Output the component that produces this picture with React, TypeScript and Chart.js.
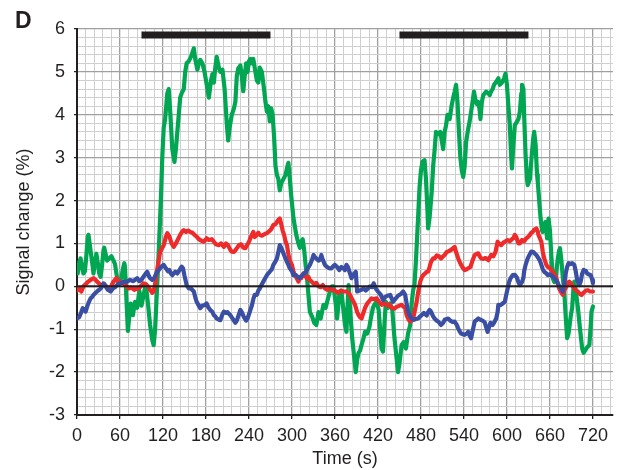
import React, { useEffect, useRef } from "react";
import { Chart, registerables } from "chart.js";

Chart.register(...registerables);

// Time (s) of the stimulus blocks (black bars)
const stimulusBlocks: [number, number][] = [
  [90, 270],
  [450, 630],
];
const stimulusLevel = 5.86;

const xTickLabels = [0, 60, 120, 180, 240, 300, 360, 420, 480, 540, 600, 660, 720];
const yTickLabels = [-3, -2, -1, 0, 1, 2, 3, 4, 5, 6];

// [time (s), signal change (%)]
const greenSignal: [number, number][] = [
  [1,0.3],[3,0.55],[5,0.65],[7,0.45],[9,0.3],[11,0.35],[13,0.7],[15,1.15],[16,1.2],[18,0.95],[20,0.7],[22,0.45],[23,0.3],[25,0.55],[27,0.76],[29,0.55],[31,0.3],[33,0.22],[35,0.5],[37,0.85],[38,0.9],[40,0.75],[42,0.6],[45,0.65],[48,0.7],[51,0.6],[53,0.52],[55,0.3],[57,0.1],[58,0.05],[60,0.15],[62,0.2],[64,0.4],[66,0.54],[67,0.45],[69,-0.3],[71,-1.04],[73,-0.7],[75,-0.4],[78,-0.67],[81,-0.36],[84,-0.5],[87,-0.1],[90,-0.45],[93,-0.2],[96,0.05],[99,-0.4],[102,-0.9],[105,-1.25],[107,-1.37],[109,-1.0],[111,-0.3],[113,0.4],[115,1.2],[117,2.0],[119,3.0],[121,3.7],[123,3.9],[126,4.5],[128,4.6],[130,4.1],[133,3.2],[136,2.9],[138,3.2],[141,3.8],[144,4.4],[146,4.5],[149,4.6],[151,5.0],[153,5.2],[156,5.25],[159,5.35],[161,5.45],[163,5.55],[165,5.3],[168,5.05],[170,5.2],[172,5.28],[175,5.2],[178,5.0],[181,4.7],[184,4.4],[187,4.8],[189,4.95],[191,4.75],[193,5.1],[195,5.35],[198,5.1],[200,5.0],[203,5.05],[206,4.6],[209,3.8],[211,3.4],[213,3.7],[216,4.0],[219,4.15],[221,4.3],[223,4.9],[225,5.08],[228,5.15],[230,4.9],[232,4.55],[234,4.9],[236,5.2],[238,5.0],[240,5.25],[242,5.3],[244,5.2],[246,5.3],[249,5.0],[251,4.8],[253,4.75],[255,5.1],[258,5.0],[261,4.6],[263,4.3],[265,4.07],[267,4.2],[269,3.85],[271,4.15],[273,4.0],[275,3.5],[277,2.8],[279,2.6],[281,2.5],[283,2.24],[285,2.4],[288,2.5],[291,2.6],[293,2.75],[295,2.88],[297,2.5],[299,2.1],[302,1.6],[304,1.4],[306,1.2],[309,1.0],[311,0.9],[313,1.05],[315,1.1],[317,0.85],[319,0.5],[321,0.2],[323,-0.2],[325,-0.6],[328,-0.7],[331,-0.85],[334,-0.9],[337,-0.6],[340,-0.75],[344,-0.43],[347,-0.5],[350,-0.3],[353,-0.12],[356,0.0],[358,0.0],[361,-0.4],[363,-0.75],[366,-0.2],[369,-0.1],[372,-0.59],[374,-0.9],[376,-1.06],[378,-0.3],[379,0.03],[381,-0.5],[384,-1.2],[387,-1.68],[389,-2.0],[391,-1.7],[393,-1.55],[395,-1.5],[397,-1.37],[400,-1.2],[402,-1.06],[405,-1.1],[408,-0.95],[410,-0.75],[413,-0.5],[415,-0.43],[418,-0.35],[421,-0.55],[423,-1.0],[425,-1.45],[427,-1.52],[429,-0.9],[431,-0.36],[434,-0.5],[437,-0.4],[440,-0.55],[443,-1.2],[446,-1.68],[448,-2.0],[450,-1.8],[453,-1.37],[456,-1.3],[459,-1.45],[462,-1.1],[465,-0.9],[467,-0.4],[469,-0.1],[471,0.05],[473,0.6],[476,1.6],[478,2.3],[480,2.7],[482,2.9],[485,2.94],[487,2.5],[489,1.8],[490,1.35],[492,1.6],[495,2.2],[497,2.8],[499,3.17],[501,3.6],[504,3.55],[507,3.6],[509,3.4],[511,3.2],[513,3.6],[515,3.75],[517,4.0],[520,3.9],[523,4.23],[525,4.4],[527,4.54],[529,4.7],[531,4.3],[533,3.6],[535,3.0],[537,2.7],[539,2.55],[541,2.8],[543,3.37],[546,3.68],[548,3.85],[550,4.07],[552,4.3],[554,4.54],[556,4.35],[558,4.25],[560,4.3],[562,4.1],[563,3.9],[565,4.3],[567,4.46],[569,4.5],[571,4.54],[574,4.5],[576,4.46],[578,4.55],[580,4.6],[582,4.7],[585,4.77],[588,4.85],[590,4.7],[593,4.75],[596,4.85],[598,4.96],[600,4.7],[602,4.2],[604,3.76],[606,3.0],[607,2.75],[609,3.3],[611,3.76],[614,3.84],[616,3.9],[618,4.07],[620,4.5],[621,4.7],[623,4.6],[624,4.0],[626,3.06],[628,2.5],[629,2.36],[632,2.5],[635,3.14],[637,3.5],[638,3.6],[640,3.3],[642,2.6],[643,2.44],[645,2.0],[647,1.58],[649,1.3],[650,1.27],[652,1.45],[654,1.5],[656,1.12],[658,1.58],[660,1.3],[662,0.7],[664,0.19],[666,0.1],[668,0.2],[671,0.65],[673,0.85],[674,0.89],[676,0.6],[678,0.2],[680,-0.12],[682,-0.7],[684,-1.21],[686,-1.1],[689,-0.7],[691,-0.5],[693,0.0],[694,0.11],[696,-0.1],[699,-0.5],[702,-1.0],[705,-1.45],[707,-1.55],[709,-1.5],[712,-1.42],[715,-1.37],[717,-0.9],[718,-0.59],[720,-0.47],
];

const redSignal: [number, number][] = [
  [0,-0.1],[3,-0.05],[6,-0.12],[9,0.0],[12,0.05],[15,0.1],[19,0.15],[23,0.19],[26,0.15],[28,0.11],[32,0.05],[35,0.02],[38,0.05],[42,-0.02],[46,-0.08],[49,0.05],[51,0.11],[55,0.19],[58,0.12],[62,0.1],[66,0.06],[69,0.0],[72,-0.05],[76,-0.03],[80,-0.08],[84,-0.05],[86,-0.05],[90,0.02],[93,0.07],[96,0.05],[99,0.0],[102,-0.08],[105,-0.15],[107,-0.12],[109,0.05],[111,0.3],[113,0.5],[116,0.8],[119,0.9],[121,0.96],[124,1.15],[126,1.24],[129,1.16],[132,1.0],[135,0.92],[138,1.0],[141,1.1],[144,1.2],[147,1.28],[149,1.31],[152,1.27],[155,1.3],[158,1.27],[161,1.25],[164,1.2],[167,1.16],[170,1.1],[174,1.06],[177,1.04],[181,1.12],[184,1.08],[188,1.1],[191,1.04],[194,0.98],[198,0.96],[201,1.0],[205,0.92],[208,1.0],[211,0.95],[214,0.85],[216,0.81],[219,0.8],[222,0.86],[226,0.96],[229,0.98],[232,0.9],[235,0.89],[238,0.98],[240,1.04],[242,1.12],[244,1.2],[246,1.27],[248,1.15],[251,1.2],[253,1.25],[255,1.2],[258,1.18],[262,1.22],[265,1.24],[268,1.28],[271,1.33],[274,1.43],[277,1.45],[279,1.5],[281,1.55],[283,1.58],[285,1.45],[287,1.3],[289,1.2],[291,1.05],[293,0.96],[295,0.75],[297,0.6],[300,0.5],[302,0.35],[304,0.26],[307,0.18],[309,0.11],[311,0.22],[313,0.19],[316,0.3],[318,0.26],[321,0.18],[323,0.22],[325,0.15],[328,0.1],[331,0.05],[334,0.08],[337,0.0],[340,-0.02],[343,0.03],[346,-0.05],[349,-0.08],[353,-0.05],[356,-0.08],[360,-0.1],[364,-0.15],[368,-0.1],[372,-0.12],[376,-0.12],[380,-0.17],[384,-0.3],[388,-0.43],[391,-0.6],[393,-0.67],[395,-0.72],[397,-0.75],[400,-0.6],[402,-0.5],[405,-0.4],[407,-0.36],[411,-0.28],[414,-0.3],[418,-0.28],[421,-0.35],[425,-0.43],[429,-0.4],[433,-0.45],[436,-0.42],[439,-0.5],[443,-0.52],[446,-0.48],[450,-0.45],[453,-0.43],[456,-0.48],[458,-0.5],[460,-0.67],[463,-0.78],[465,-0.82],[467,-0.8],[469,-0.75],[471,-0.6],[474,-0.36],[476,-0.15],[479,0.11],[481,0.2],[483,0.26],[486,0.3],[488,0.34],[490,0.34],[492,0.45],[494,0.57],[497,0.65],[499,0.65],[502,0.72],[505,0.7],[508,0.65],[511,0.7],[513,0.73],[516,0.8],[519,0.82],[522,0.85],[524,0.88],[527,0.92],[529,0.8],[532,0.65],[534,0.57],[536,0.5],[539,0.42],[541,0.38],[544,0.4],[546,0.42],[549,0.45],[552,0.6],[555,0.73],[558,0.76],[560,0.77],[562,0.7],[564,0.65],[567,0.64],[570,0.66],[574,0.61],[576,0.67],[578,0.73],[581,0.7],[584,0.8],[587,1.04],[590,0.98],[592,0.96],[595,1.02],[597,1.04],[601,1.08],[604,1.05],[607,1.1],[609,1.12],[611,1.2],[613,1.15],[616,1.0],[618,1.0],[621,1.08],[624,1.05],[627,1.12],[630,1.16],[632,1.2],[634,1.25],[636,1.27],[638,1.32],[641,1.35],[643,1.28],[644,1.2],[646,1.12],[648,1.04],[650,0.81],[652,0.65],[655,0.5],[657,0.45],[660,0.42],[662,0.38],[664,0.34],[666,0.28],[669,0.19],[671,0.05],[673,-0.05],[675,-0.12],[678,-0.2],[680,-0.1],[683,0.0],[685,0.08],[687,0.11],[690,0.05],[692,0.0],[694,-0.05],[697,-0.1],[699,-0.12],[702,-0.18],[704,-0.2],[707,-0.15],[710,-0.1],[713,-0.09],[716,-0.12],[720,-0.12],
];

const blueSignal: [number, number][] = [
  [0,-0.75],[3,-0.72],[6,-0.6],[8,-0.51],[10,-0.55],[12,-0.59],[15,-0.43],[17,-0.35],[19,-0.28],[21,-0.25],[23,-0.2],[26,-0.15],[28,-0.12],[31,-0.08],[33,-0.05],[35,0.0],[37,0.07],[40,0.0],[43,-0.08],[47,-0.12],[50,-0.05],[53,-0.02],[56,0.03],[60,0.07],[63,0.08],[65,0.11],[69,0.1],[72,0.13],[74,0.15],[78,0.12],[81,0.15],[84,0.19],[87,0.12],[90,0.15],[93,0.23],[96,0.3],[98,0.34],[100,0.25],[102,0.19],[105,0.15],[108,0.2],[110,0.28],[112,0.34],[114,0.38],[116,0.42],[119,0.48],[121,0.5],[124,0.42],[127,0.35],[129,0.38],[131,0.3],[133,0.26],[135,0.3],[137,0.34],[140,0.3],[143,0.38],[146,0.46],[148,0.42],[150,0.25],[153,0.03],[156,-0.05],[159,-0.05],[163,-0.12],[165,-0.25],[167,-0.36],[170,-0.45],[172,-0.51],[175,-0.45],[178,-0.44],[181,-0.4],[183,-0.48],[186,-0.55],[189,-0.6],[191,-0.67],[193,-0.7],[195,-0.75],[198,-0.78],[200,-0.79],[203,-0.65],[205,-0.59],[208,-0.62],[210,-0.6],[212,-0.64],[214,-0.67],[217,-0.75],[219,-0.8],[221,-0.85],[223,-0.8],[226,-0.65],[228,-0.55],[230,-0.6],[233,-0.72],[236,-0.8],[238,-0.75],[240,-0.65],[242,-0.55],[244,-0.45],[246,-0.3],[248,-0.2],[251,-0.2],[253,-0.1],[255,-0.05],[258,0.05],[260,0.11],[263,0.2],[265,0.26],[267,0.3],[269,0.34],[272,0.4],[274,0.5],[277,0.58],[279,0.65],[281,0.8],[283,0.96],[285,0.9],[287,0.82],[289,0.73],[291,0.65],[293,0.57],[295,0.5],[297,0.42],[300,0.35],[302,0.26],[305,0.27],[308,0.22],[311,0.19],[314,0.25],[317,0.3],[320,0.34],[322,0.42],[325,0.5],[328,0.62],[330,0.73],[332,0.68],[334,0.65],[337,0.6],[339,0.62],[341,0.73],[343,0.62],[346,0.5],[349,0.45],[352,0.42],[355,0.42],[358,0.48],[360,0.5],[363,0.45],[366,0.38],[369,0.45],[372,0.42],[374,0.38],[376,0.5],[378,0.45],[381,0.3],[383,0.19],[386,0.28],[389,0.34],[391,-0.12],[394,-0.1],[397,-0.08],[400,-0.05],[403,-0.1],[406,-0.05],[409,0.0],[412,-0.02],[414,0.07],[417,-0.05],[420,-0.12],[424,-0.2],[427,-0.32],[430,-0.25],[433,-0.22],[437,-0.2],[441,-0.36],[444,-0.3],[448,-0.22],[452,-0.18],[455,-0.12],[458,-0.2],[460,-0.4],[462,-0.59],[465,-0.7],[467,-0.75],[470,-0.78],[473,-0.76],[476,-0.75],[479,-0.7],[481,-0.67],[484,-0.62],[486,-0.65],[488,-0.68],[490,-0.6],[492,-0.55],[494,-0.59],[497,-0.7],[499,-0.75],[502,-0.8],[504,-0.82],[506,-0.86],[508,-0.9],[511,-0.85],[513,-0.78],[516,-0.76],[518,-0.75],[521,-0.8],[524,-0.83],[527,-0.82],[530,-0.9],[532,-0.98],[534,-1.05],[536,-1.1],[539,-1.12],[541,-1.13],[544,-1.1],[546,-1.06],[548,-1.15],[550,-1.21],[552,-1.05],[555,-0.82],[558,-0.78],[560,-0.75],[563,-0.78],[566,-0.8],[569,-0.84],[571,-0.95],[573,-1.06],[575,-0.95],[577,-0.85],[580,-0.9],[582,-0.85],[585,-0.75],[587,-0.6],[588,-0.43],[591,-0.44],[594,-0.4],[597,-0.36],[599,-0.2],[601,-0.05],[603,0.1],[605,0.19],[608,0.26],[611,0.27],[614,0.2],[616,0.1],[618,0.03],[621,0.1],[623,0.2],[624,0.35],[626,0.5],[629,0.65],[631,0.72],[634,0.81],[637,0.8],[639,0.76],[641,0.73],[643,0.68],[646,0.6],[648,0.5],[650,0.4],[652,0.34],[655,0.3],[657,0.26],[660,0.28],[663,0.24],[666,0.2],[668,0.15],[670,0.11],[673,0.0],[676,-0.05],[678,-0.12],[680,0.05],[682,0.3],[684,0.45],[686,0.54],[689,0.52],[691,0.54],[694,0.5],[696,0.35],[698,0.15],[701,0.03],[703,0.12],[705,0.3],[707,0.38],[710,0.36],[712,0.3],[714,0.28],[717,0.26],[719,0.15],[720,0.07],
];

const GREEN = "#00a651";
const RED = "#ee2a2b";
const BLUE = "#3a4fa3";
const INK = "#231f20";
const FONT = "'Liberation Sans', Arial, Helvetica, sans-serif";

const toPoints = (arr: [number, number][]) => arr.map(([x, y]) => ({ x, y }));

const isMajorX = (v: number) => xTickLabels.includes(v);
const isMajorY = (v: number) => Math.abs(v - Math.round(v)) < 1e-6 && yTickLabels.includes(Math.round(v));

const overlayPlugin = {
  id: "overlay",
  afterDatasetsDraw(chart: any) {
    const { ctx, chartArea, scales } = chart;
    const y0 = scales.y.getPixelForValue(0);
    ctx.save();
    ctx.strokeStyle = INK;
    ctx.lineWidth = 2;
    ctx.beginPath();
    ctx.moveTo(chartArea.left, y0);
    ctx.lineTo(chartArea.right, y0);
    ctx.stroke();
    ctx.restore();
  },
  afterDraw(chart: any) {
    const { ctx } = chart;
    ctx.save();
    ctx.fillStyle = INK;
    ctx.font = `bold 23px ${FONT}`;
    ctx.textBaseline = "alphabetic";
    ctx.fillText("D", 15, 28);
    ctx.restore();
  },
};

export default function App() {
  const canvasRef = useRef<HTMLCanvasElement | null>(null);

  useEffect(() => {
    if (!canvasRef.current) return;
    const barDatasets = stimulusBlocks.map(([a, b]) => ({
      label: "stimulus",
      data: [
        { x: a, y: stimulusLevel },
        { x: b, y: stimulusLevel },
      ],
      borderColor: INK,
      borderWidth: 7,
      borderCapStyle: "butt" as const,
      pointRadius: 0,
    }));
    const lineStyle = {
      borderWidth: 4.2,
      pointRadius: 0,
      tension: 0,
      borderJoinStyle: "round" as const,
      borderCapStyle: "round" as const,
    };
    const chart = new Chart(canvasRef.current, {
      type: "line",
      data: {
        datasets: [
          { label: "blue", data: toPoints(blueSignal), borderColor: BLUE, ...lineStyle },
          { label: "red", data: toPoints(redSignal), borderColor: RED, ...lineStyle },
          { label: "green", data: toPoints(greenSignal), borderColor: GREEN, ...lineStyle },
          ...barDatasets,
        ],
      },
      options: {
        animation: false,
        responsive: false,
        layout: { padding: { top: 29, right: 7, left: 0, bottom: 0 } },
        plugins: { legend: { display: false }, tooltip: { enabled: false } },
        scales: {
          x: {
            type: "linear",
            min: 0,
            max: 748,
            afterFit: (scale: any) => {
              scale.height = 55;
            },
            ticks: {
              stepSize: 12,
              autoSkip: false,
              includeBounds: false,
              maxRotation: 0,
              padding: 6,
              color: INK,
              font: { family: FONT, size: 18 },
              callback: (v: any) => (isMajorX(Number(v)) ? String(v) : ""),
            },
            grid: {
              color: (ctx: any) => (isMajorX(ctx.tick?.value) ? "#a0a0a0" : "#cfcfcf"),
              lineWidth: (ctx: any) => (isMajorX(ctx.tick?.value) ? 1.3 : 1),
              tickColor: (ctx: any) => (isMajorX(ctx.tick?.value) ? INK : "rgba(0,0,0,0)"),
              tickLength: 4,
            },
            border: { color: INK, width: 2 },
            title: {
              display: true,
              text: "Time (s)",
              color: INK,
              font: { family: FONT, size: 18 },
              padding: { top: 0, bottom: 0 },
            },
          },
          y: {
            type: "linear",
            min: -3,
            max: 6,
            afterFit: (scale: any) => {
              scale.width = 77;
            },
            ticks: {
              stepSize: 0.2,
              autoSkip: false,
              padding: 9,
              color: INK,
              font: { family: FONT, size: 18 },
              callback: (v: any) => (isMajorY(Number(v)) ? String(Math.round(Number(v))) : ""),
            },
            grid: {
              color: (ctx: any) => (isMajorY(ctx.tick?.value) ? "#a0a0a0" : "#cfcfcf"),
              lineWidth: (ctx: any) => (isMajorY(ctx.tick?.value) ? 1.3 : 1),
              tickColor: (ctx: any) => (isMajorY(ctx.tick?.value) ? INK : "rgba(0,0,0,0)"),
              tickLength: 3,
            },
            border: { color: INK, width: 2 },
            title: {
              display: true,
              text: "Signal change (%)",
              color: INK,
              font: { family: FONT, size: 18 },
              padding: { top: 13, bottom: 0 },
            },
          },
        },
      },
      plugins: [overlayPlugin],
    });
    return () => chart.destroy();
  }, []);

  return (
    <div style={{ position: "absolute", left: 0, top: 0, width: 620, height: 470, background: "#fff" }}>
      <canvas ref={canvasRef} width={620} height={470} style={{ display: "block", width: 620, height: 470 }} />
    </div>
  );
}
